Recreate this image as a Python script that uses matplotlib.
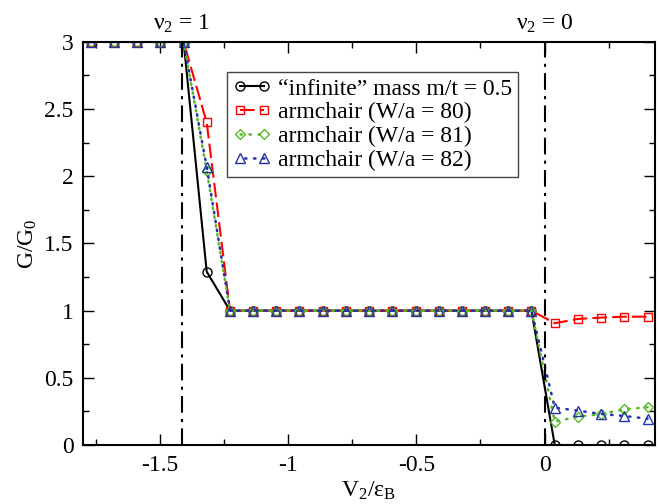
import matplotlib
matplotlib.use("Agg")
import matplotlib.pyplot as plt
from matplotlib.ticker import MultipleLocator

plt.rcParams['font.family'] = ['Liberation Serif', 'DejaVu Serif']
plt.rcParams['mathtext.fontset'] = 'custom'
plt.rcParams['mathtext.rm'] = 'Liberation Serif'
plt.rcParams['mathtext.it'] = 'Liberation Serif:italic'

# Data
x_vals = [-1.770, -1.680, -1.589, -1.499, -1.408, -1.318, -1.227, -1.137, -1.046, -0.956,
          -0.865, -0.775, -0.684, -0.594, -0.503, -0.413, -0.322, -0.232, -0.141, -0.051,
          0.040, 0.130, 0.221, 0.311, 0.402]
g_infinite = [3, 3, 3, 3, 3, 1.29, 1, 1, 1, 1, 1, 1, 1, 1, 1, 1, 1, 1, 1, 1,
              0, 0, 0, 0, 0]
g_w80 = [3, 3, 3, 3, 3, 2.40, 1, 1, 1, 1, 1, 1, 1, 1, 1, 1, 1, 1, 1, 1,
         0.906, 0.938, 0.948, 0.955, 0.955]
g_w81 = [3, 3, 3, 3, 3, 2.04, 1, 1, 1, 1, 1, 1, 1, 1, 1, 1, 1, 1, 1, 1,
         0.174, 0.211, 0.231, 0.266, 0.281]
g_w82 = [3, 3, 3, 3, 3, 2.07, 1, 1, 1, 1, 1, 1, 1, 1, 1, 1, 1, 1, 1, 1,
         0.278, 0.256, 0.231, 0.216, 0.196]
labels = ['\u201cinfinite\u201d mass m/t = 0.5',
          'armchair (W/a = 80)', 'armchair (W/a = 81)', 'armchair (W/a = 82)']
v_lines = [-1.4142, 0.0]
v_labels = ['\u03bd$_2$ = 1', '\u03bd$_2$ = 0']

fig = plt.figure(figsize=(6.6, 5.04), dpi=100)
ax = fig.add_axes([0.126, 0.117, 0.866, 0.800])

ax.plot(x_vals, g_infinite, color='black', lw=1.5, ls='-', marker='o', ms=6.5,
        mfc='none', mec='black', mew=1.0, label=labels[0])
ax.plot(x_vals, g_w80, color='#ff0000', lw=1.5, ls=(0, (7, 2.5)), marker='s', ms=6,
        mfc='none', mec='#ff0000', mew=1.0, label=labels[1])
ax.plot(x_vals, g_w81, color='#55bb22', lw=1.8, ls=(0, (0.6, 3)), marker='D', ms=5.5,
        mfc='none', mec='#55bb22', mew=1.0, label=labels[2], dash_capstyle='round')
ax.plot(x_vals, g_w82, color='#2233aa', lw=1.8, ls=(1.8, (0.6, 3)), marker='^', ms=6.5,
        mfc='none', mec='#2233aa', mew=1.0, label=labels[3], dash_capstyle='round')

for xv, lab in zip(v_lines, v_labels):
    ax.axvline(xv, color='black', lw=1.5, ls=(0, (8, 3, 1.5, 3)))
    ax.text(xv, 3.05, lab, ha='center', va='bottom', fontsize=17)

ax.set_xlim(-1.8, 0.43)
ax.set_ylim(0, 3)
ax.xaxis.set_minor_locator(MultipleLocator(0.25))
ax.yaxis.set_minor_locator(MultipleLocator(0.25))
ax.set_xticks([-1.5, -1, -0.5, 0])
ax.set_xticklabels(['-1.5', '-1', '-0.5', '0'])
ax.set_yticks([0, 0.5, 1, 1.5, 2, 2.5, 3])
ax.set_yticklabels(['0', '0.5', '1', '1.5', '2', '2.5', '3'])
ax.tick_params(which='both', direction='in', top=True, right=True, labelsize=17)
ax.tick_params(which='major', length=8, width=1.0, pad=7)
ax.tick_params(which='minor', length=4, width=1.0)
for s in ax.spines.values():
    s.set_linewidth(1.5)

ax.set_xlabel('V$_2$/\u03b5$_\\mathrm{B}$', fontsize=17, labelpad=3)
ax.set_ylabel('G/G$_0$', fontsize=17, labelpad=4)

leg = ax.legend(loc='upper left', bbox_to_anchor=(0.252, 0.925), fontsize=17,
                numpoints=2, handlelength=1.6, handletextpad=0.3, labelspacing=0.1,
                borderpad=0.25, borderaxespad=0, frameon=True, fancybox=False,
                edgecolor='#444444', framealpha=1)
leg.get_frame().set_linewidth(1.0)

fig.savefig('out.png', dpi=100)
